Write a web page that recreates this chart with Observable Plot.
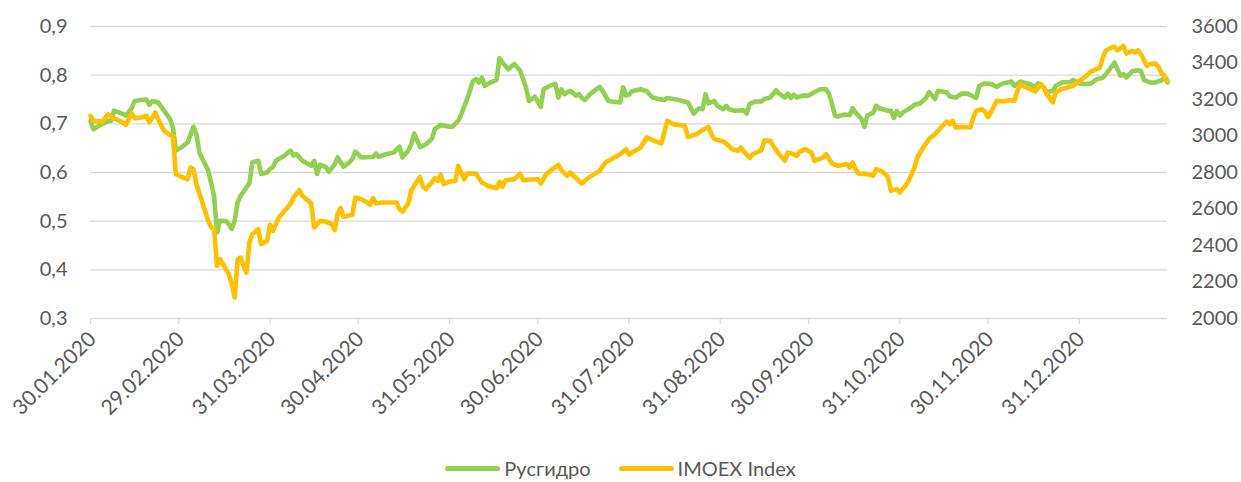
<!DOCTYPE html>
<html>
<head>
<meta charset="utf-8">
<script src="https://cdn.jsdelivr.net/npm/d3@7"></script>
<script src="https://cdn.jsdelivr.net/npm/@observablehq/plot@0.6"></script>
<style>
  html, body { margin: 0; padding: 0; background: #fff; }
  body { width: 1241px; height: 482px; position: relative; overflow: hidden; font-family: Lato, "Open Sans", sans-serif; }
  #legend { position: absolute; left: 0; top: 455px; width: 1241px; height: 26px; display: flex; justify-content: center; align-items: center; gap: 28px; color: #595959; font-size: 20px; }
  #legend .item { display: flex; align-items: center; gap: 4px; }
  #legend .sw { display: inline-block; width: 55px; height: 5px; border-radius: 3px; }
</style>
</head>
<body>
<div id="chart"></div>
<div id="legend"></div>
<script>
// Series names and colours
const seriesNames = ["Русгидро", "IMOEX Index"];
const seriesColors = ["#92D050", "#FFC000"];

// Axis ticks
const leftTicks = [0.3, 0.4, 0.5, 0.6, 0.7, 0.8, 0.9];
const rightTicks = [2000, 2200, 2400, 2600, 2800, 3000, 3200, 3400, 3600];
const xTicks = ["2020-01-30", "2020-02-29", "2020-03-31", "2020-04-30", "2020-05-31", "2020-06-30",
  "2020-07-31", "2020-08-31", "2020-09-30", "2020-10-31", "2020-11-30", "2020-12-31"];
const xDomain = ["2020-01-30", "2021-01-30"];

// Русгидро (left axis)
const rushydro = [
["2020-01-30",0.706],["2020-01-31",0.689],["2020-02-03",0.700],["2020-02-05",0.706],["2020-02-06",0.706],
["2020-02-07",0.727],["2020-02-09",0.723],["2020-02-11",0.717],["2020-02-13",0.732],["2020-02-14",0.747],
["2020-02-16",0.749],["2020-02-18",0.750],["2020-02-19",0.739],["2020-02-20",0.747],["2020-02-22",0.744],
["2020-02-24",0.727],["2020-02-26",0.710],["2020-02-27",0.693],["2020-02-28",0.645],["2020-03-01",0.652],
["2020-03-03",0.662],["2020-03-05",0.694],["2020-03-06",0.679],["2020-03-07",0.641],["2020-03-10",0.604],
["2020-03-12",0.552],["2020-03-13",0.477],["2020-03-14",0.501],["2020-03-16",0.500],["2020-03-17",0.494],
["2020-03-18",0.484],["2020-03-19",0.501],["2020-03-20",0.539],["2020-03-21",0.552],["2020-03-24",0.578],
["2020-03-25",0.621],["2020-03-27",0.624],["2020-03-28",0.597],["2020-03-30",0.600],["2020-03-31",0.607],
["2020-04-01",0.611],["2020-04-02",0.624],["2020-04-05",0.635],["2020-04-07",0.645],["2020-04-08",0.635],
["2020-04-09",0.638],["2020-04-11",0.624],["2020-04-14",0.614],["2020-04-15",0.624],["2020-04-16",0.597],
["2020-04-17",0.616],["2020-04-19",0.611],["2020-04-20",0.602],["2020-04-22",0.617],["2020-04-23",0.631],
["2020-04-25",0.612],["2020-04-27",0.621],["2020-04-28",0.628],["2020-04-29",0.643],["2020-05-01",0.631],
["2020-05-05",0.632],["2020-05-06",0.639],["2020-05-07",0.632],["2020-05-09",0.637],["2020-05-12",0.641],
["2020-05-14",0.653],["2020-05-15",0.631],["2020-05-17",0.645],["2020-05-18",0.658],["2020-05-19",0.680],
["2020-05-21",0.652],["2020-05-23",0.658],["2020-05-25",0.669],["2020-05-26",0.689],["2020-05-28",0.698],
["2020-05-31",0.694],["2020-06-01",0.694],["2020-06-03",0.706],["2020-06-04",0.720],["2020-06-06",0.751],
["2020-06-08",0.788],["2020-06-09",0.792],["2020-06-10",0.785],["2020-06-11",0.795],["2020-06-12",0.778],
["2020-06-14",0.785],["2020-06-16",0.790],["2020-06-17",0.835],["2020-06-18",0.826],["2020-06-20",0.812],
["2020-06-22",0.823],["2020-06-24",0.809],["2020-06-26",0.775],["2020-06-27",0.747],["2020-06-28",0.751],
["2020-06-29",0.756],["2020-07-01",0.735],["2020-07-02",0.771],["2020-07-04",0.778],["2020-07-06",0.782],
["2020-07-07",0.754],["2020-07-08",0.771],["2020-07-09",0.761],["2020-07-11",0.768],["2020-07-13",0.758],
["2020-07-14",0.761],["2020-07-15",0.753],["2020-07-16",0.749],["2020-07-18",0.762],["2020-07-21",0.776],
["2020-07-22",0.768],["2020-07-24",0.747],["2020-07-28",0.744],["2020-07-29",0.775],["2020-07-30",0.758],
["2020-07-31",0.760],["2020-08-01",0.767],["2020-08-04",0.771],["2020-08-06",0.767],["2020-08-08",0.754],
["2020-08-10",0.751],["2020-08-12",0.749],["2020-08-13",0.753],["2020-08-15",0.751],["2020-08-17",0.749],
["2020-08-20",0.744],["2020-08-22",0.721],["2020-08-23",0.728],["2020-08-24",0.732],["2020-08-25",0.730],
["2020-08-26",0.761],["2020-08-27",0.742],["2020-08-29",0.747],["2020-08-30",0.737],["2020-09-01",0.730],
["2020-09-02",0.737],["2020-09-03",0.730],["2020-09-05",0.727],["2020-09-08",0.728],["2020-09-09",0.721],
["2020-09-10",0.741],["2020-09-12",0.746],["2020-09-14",0.746],["2020-09-15",0.751],["2020-09-17",0.754],
["2020-09-19",0.769],["2020-09-20",0.762],["2020-09-22",0.754],["2020-09-23",0.762],["2020-09-24",0.753],
["2020-09-25",0.760],["2020-09-26",0.754],["2020-09-28",0.758],["2020-09-30",0.758],["2020-10-02",0.765],
["2020-10-04",0.771],["2020-10-06",0.771],["2020-10-07",0.761],["2020-10-08",0.741],["2020-10-09",0.717],
["2020-10-10",0.715],["2020-10-12",0.719],["2020-10-14",0.718],["2020-10-15",0.732],["2020-10-16",0.723],
["2020-10-18",0.710],["2020-10-19",0.694],["2020-10-20",0.717],["2020-10-22",0.723],["2020-10-23",0.737],
["2020-10-24",0.732],["2020-10-27",0.727],["2020-10-28",0.727],["2020-10-29",0.712],["2020-10-30",0.726],
["2020-10-31",0.717],["2020-11-01",0.723],["2020-11-04",0.734],["2020-11-05",0.739],["2020-11-07",0.742],
["2020-11-09",0.754],["2020-11-10",0.765],["2020-11-12",0.751],["2020-11-13",0.768],["2020-11-16",0.765],
["2020-11-17",0.756],["2020-11-19",0.754],["2020-11-21",0.762],["2020-11-23",0.762],["2020-11-26",0.753],
["2020-11-27",0.778],["2020-11-29",0.783],["2020-12-01",0.782],["2020-12-03",0.776],["2020-12-05",0.783],
["2020-12-08",0.787],["2020-12-09",0.778],["2020-12-11",0.787],["2020-12-12",0.785],["2020-12-14",0.782],
["2020-12-16",0.776],["2020-12-17",0.783],["2020-12-19",0.775],["2020-12-20",0.765],["2020-12-22",0.768],
["2020-12-23",0.778],["2020-12-25",0.785],["2020-12-28",0.786],["2020-12-29",0.790],["2020-12-31",0.783],
["2021-01-02",0.782],["2021-01-04",0.783],["2021-01-06",0.792],["2021-01-08",0.794],["2021-01-10",0.809],
["2021-01-12",0.826],["2021-01-14",0.799],["2021-01-15",0.802],["2021-01-16",0.795],["2021-01-18",0.808],
["2021-01-20",0.810],["2021-01-21",0.808],["2021-01-22",0.790],["2021-01-24",0.785],["2021-01-26",0.785],
["2021-01-28",0.790],["2021-01-29",0.794],["2021-01-30",0.785]
];

// IMOEX Index (right axis)
const imoex = [
["2020-01-30",3110],["2020-01-31",3083],["2020-02-03",3079],["2020-02-05",3120],["2020-02-07",3096],
["2020-02-09",3083],["2020-02-11",3061],["2020-02-13",3123],["2020-02-14",3098],["2020-02-16",3101],
["2020-02-18",3110],["2020-02-19",3074],["2020-02-21",3129],["2020-02-22",3092],["2020-02-24",3028],
["2020-02-26",3006],["2020-02-27",3001],["2020-02-28",2791],["2020-03-02",2769],["2020-03-03",2763],
["2020-03-04",2827],["2020-03-05",2818],["2020-03-06",2736],["2020-03-08",2636],["2020-03-10",2535],
["2020-03-11",2499],["2020-03-12",2490],["2020-03-13",2289],["2020-03-14",2325],["2020-03-15",2298],
["2020-03-17",2243],["2020-03-18",2188],["2020-03-19",2115],["2020-03-20",2325],["2020-03-21",2334],
["2020-03-22",2289],["2020-03-23",2252],["2020-03-24",2416],["2020-03-25",2462],["2020-03-27",2489],
["2020-03-28",2407],["2020-03-30",2426],["2020-03-31",2513],["2020-04-01",2480],["2020-04-03",2553],
["2020-04-05",2590],["2020-04-07",2630],["2020-04-08",2663],["2020-04-10",2703],["2020-04-11",2672],
["2020-04-13",2645],["2020-04-14",2630],["2020-04-15",2499],["2020-04-17",2535],["2020-04-19",2531],
["2020-04-21",2517],["2020-04-22",2484],["2020-04-23",2575],["2020-04-24",2605],["2020-04-25",2557],
["2020-04-28",2568],["2020-04-29",2663],["2020-05-01",2654],["2020-05-03",2636],["2020-05-04",2623],
["2020-05-05",2659],["2020-05-06",2630],["2020-05-08",2636],["2020-05-13",2636],["2020-05-14",2599],
["2020-05-15",2586],["2020-05-17",2630],["2020-05-18",2700],["2020-05-19",2727],["2020-05-21",2776],
["2020-05-22",2721],["2020-05-23",2709],["2020-05-25",2745],["2020-05-26",2769],["2020-05-27",2754],
["2020-05-28",2787],["2020-05-29",2736],["2020-05-31",2751],["2020-06-02",2754],["2020-06-03",2836],
["2020-06-05",2763],["2020-06-06",2794],["2020-06-09",2794],["2020-06-11",2745],["2020-06-13",2727],
["2020-06-16",2714],["2020-06-17",2749],["2020-06-18",2721],["2020-06-19",2758],["2020-06-22",2763],
["2020-06-24",2794],["2020-06-25",2758],["2020-06-28",2762],["2020-06-30",2763],["2020-07-01",2740],
["2020-07-03",2794],["2020-07-05",2818],["2020-07-07",2842],["2020-07-08",2813],["2020-07-10",2782],
["2020-07-11",2800],["2020-07-13",2769],["2020-07-15",2740],["2020-07-17",2769],["2020-07-21",2809],
["2020-07-23",2855],["2020-07-25",2873],["2020-07-28",2900],["2020-07-30",2928],["2020-07-31",2897],
["2020-08-01",2910],["2020-08-04",2937],["2020-08-06",2992],["2020-08-08",2977],["2020-08-11",2959],
["2020-08-12",3019],["2020-08-13",3083],["2020-08-15",3065],["2020-08-19",3056],["2020-08-20",2995],
["2020-08-23",3010],["2020-08-25",3032],["2020-08-27",3050],["2020-08-28",3010],["2020-08-29",2983],
["2020-09-01",2970],["2020-09-02",2959],["2020-09-04",2928],["2020-09-06",2919],["2020-09-07",2937],
["2020-09-09",2897],["2020-09-10",2879],["2020-09-11",2900],["2020-09-14",2922],["2020-09-15",2977],
["2020-09-17",2974],["2020-09-18",2946],["2020-09-20",2900],["2020-09-22",2864],["2020-09-23",2910],
["2020-09-25",2900],["2020-09-26",2891],["2020-09-27",2915],["2020-09-29",2928],["2020-10-01",2910],
["2020-10-02",2864],["2020-10-05",2882],["2020-10-06",2900],["2020-10-08",2849],["2020-10-10",2836],
["2020-10-13",2846],["2020-10-14",2827],["2020-10-15",2855],["2020-10-16",2818],["2020-10-17",2794],
["2020-10-20",2791],["2020-10-22",2782],["2020-10-23",2818],["2020-10-25",2806],["2020-10-27",2776],
["2020-10-28",2700],["2020-10-30",2709],["2020-10-31",2690],["2020-11-02",2727],["2020-11-03",2754],
["2020-11-05",2827],["2020-11-06",2882],["2020-11-08",2937],["2020-11-10",2983],["2020-11-12",3010],
["2020-11-13",3028],["2020-11-14",3047],["2020-11-16",3079],["2020-11-17",3065],["2020-11-18",3083],
["2020-11-19",3047],["2020-11-21",3050],["2020-11-24",3047],["2020-11-25",3101],["2020-11-26",3138],
["2020-11-28",3147],["2020-11-29",3132],["2020-11-30",3103],["2020-12-01",3130],["2020-12-03",3193],
["2020-12-05",3189],["2020-12-07",3196],["2020-12-09",3193],["2020-12-10",3247],["2020-12-11",3284],
["2020-12-13",3266],["2020-12-16",3244],["2020-12-18",3284],["2020-12-19",3266],["2020-12-20",3229],
["2020-12-22",3184],["2020-12-23",3238],["2020-12-25",3257],["2020-12-27",3266],["2020-12-29",3275],
["2020-12-31",3302],["2021-01-02",3324],["2021-01-04",3353],["2021-01-07",3375],["2021-01-08",3430],
["2021-01-09",3467],["2021-01-11",3485],["2021-01-12",3489],["2021-01-13",3470],["2021-01-15",3494],
["2021-01-16",3452],["2021-01-18",3467],["2021-01-19",3458],["2021-01-20",3470],["2021-01-21",3448],
["2021-01-23",3384],["2021-01-24",3394],["2021-01-26",3397],["2021-01-27",3375],["2021-01-28",3342],
["2021-01-29",3330],["2021-01-30",3302]
];

// map right-axis values onto the left scale
const L0 = leftTicks[0], L1 = leftTicks[leftTicks.length - 1];
const R0 = rightTicks[0], R1 = rightTicks[rightTicks.length - 1];
const toLeft = v => L0 + (v - R0) / (R1 - R0) * (L1 - L0);
const fromLeft = y => R0 + (y - L0) / (L1 - L0) * (R1 - R0);

const parse = s => new Date(s + "T00:00:00Z");
const greenData = rushydro.map(([d, v]) => ({date: parse(d), value: v}));
const orangeData = imoex.map(([d, v]) => ({date: parse(d), value: toLeft(v)}));

const fmtDate = d3.utcFormat("%d.%m.%Y");

const chart = Plot.plot({
  width: 1241,
  height: 450,
  marginLeft: 90,
  marginRight: 74,
  marginTop: 26,
  marginBottom: 132,
  style: {fontFamily: "Lato, 'Open Sans', sans-serif", fontSize: "20px", color: "#595959", background: "#fff"},
  x: {type: "utc", domain: xDomain.map(parse)},
  y: {domain: [L0, L1]},
  marks: [
    Plot.gridY(leftTicks, {stroke: "#d9d9d9", strokeOpacity: 1, strokeWidth: 1.3}),
    Plot.axisY(leftTicks, {anchor: "left", tickSize: 0, tickPadding: 23, label: null,
      tickFormat: d => d.toFixed(1).replace(".", ","), fill: "#595959"}),
    Plot.axisY(rightTicks.map(toLeft), {anchor: "right", tickSize: 0, tickPadding: 24, label: null,
      tickFormat: d => String(Math.round(fromLeft(d))), fill: "#595959"}),
    Plot.axisX(xTicks.map(parse), {tickSize: 6, stroke: "#d9d9d9", strokeWidth: 1.3, text: null, label: null}),
    Plot.axisX(xTicks.map(parse), {tickSize: 0, tickRotate: -45, tickPadding: 17, dx: 2, label: null,
      tickFormat: fmtDate, fill: "#595959", fontSize: 21}),
    Plot.lineY(greenData, {x: "date", y: "value", stroke: seriesColors[0], strokeWidth: 4.6,
      strokeLinejoin: "round", strokeLinecap: "round", curve: "linear"}),
    Plot.lineY(orangeData, {x: "date", y: "value", stroke: seriesColors[1], strokeWidth: 4.6,
      strokeLinejoin: "round", strokeLinecap: "round", curve: "linear"})
  ]
});
document.getElementById("chart").appendChild(chart);

const legend = document.getElementById("legend");
seriesNames.forEach((name, i) => {
  const item = document.createElement("div");
  item.className = "item";
  const sw = document.createElement("span");
  sw.className = "sw";
  sw.style.background = seriesColors[i];
  const t = document.createElement("span");
  t.textContent = name;
  item.appendChild(sw);
  item.appendChild(t);
  legend.appendChild(item);
});
</script>
</body>
</html>
